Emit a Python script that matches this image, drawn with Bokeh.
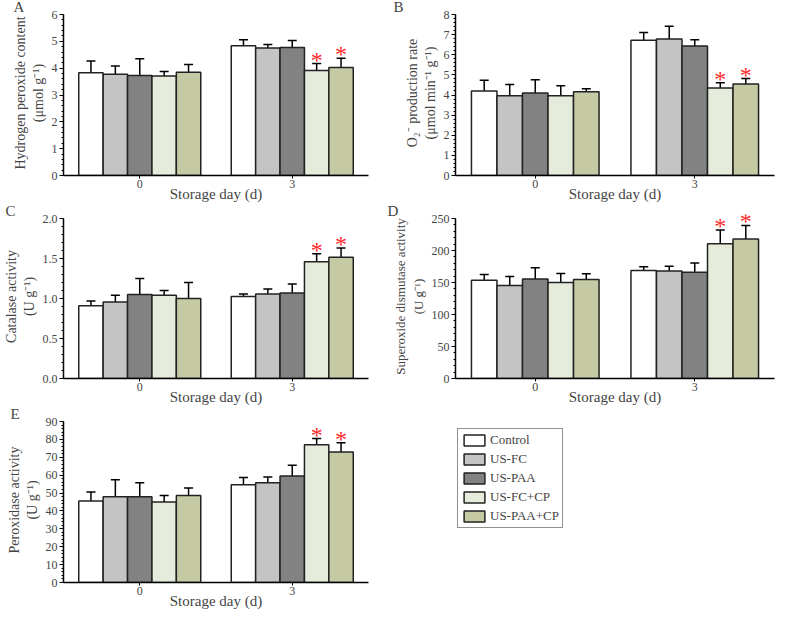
from bokeh.plotting import figure
from bokeh.models import (ColumnDataSource, Whisker, TeeHead, FactorRange, Range1d, Title, LabelSet,
                          SingleIntervalTicker, NumeralTickFormatter, Legend, LegendItem)
from bokeh.transform import dodge
from bokeh.layouts import gridplot
from bokeh.embed import file_html
from bokeh.resources import INLINE

days = ["0", "3"]
series = ["Control", "US-FC", "US-PAA", "US-FC+CP", "US-PAA+CP"]
colors = ["#ffffff", "#c4c4c4", "#828282", "#e5ecdc", "#c5caa5"]

# mean and upper end of error bar, per series, for [day 0, day 3]
a_mean = [[3.83, 4.84], [3.77, 4.75], [3.73, 4.77], [3.71, 3.91], [3.85, 4.03]]
a_up = [[4.27, 5.06], [4.08, 4.88], [4.35, 5.03], [3.88, 4.17], [4.14, 4.37]]
b_mean = [[4.20, 6.72], [3.96, 6.78], [4.10, 6.43], [3.96, 4.35], [4.16, 4.55]]
b_up = [[4.73, 7.11], [4.52, 7.42], [4.76, 6.75], [4.46, 4.61], [4.31, 4.82]]
c_mean = [[0.91, 1.026], [0.955, 1.056], [1.05, 1.07], [1.04, 1.46], [1.00, 1.515]]
c_up = [[0.97, 1.056], [1.04, 1.12], [1.25, 1.18], [1.10, 1.56], [1.20, 1.63]]
d_mean = [[153.7, 168.7], [145.2, 167.8], [155.5, 165.9], [149.9, 210.5], [154.6, 218.0]]
d_up = [[162.6, 174.8], [159.3, 175.3], [172.9, 180.5], [164.0, 232.1], [163.5, 239.2]]
e_mean = [[45.5, 54.6], [47.9, 55.8], [47.9, 59.6], [45.0, 77.0], [48.7, 72.9]]
e_up = [[50.6, 58.7], [57.4, 59.0], [55.7, 65.5], [48.6, 80.5], [52.8, 78.2]]

# significance stars: (series index, day)
stars = [(3, "3"), (4, "3")]

FONT = "Liberation Serif"
BAR_W = 0.16
offsets = [-0.32, -0.16, 0.0, 0.16, 0.32]


def panel(letter, means, ups, ymax, step, fmt, ylabel, w, h, left, right, ysize="14px"):
    p = figure(width=w, height=h, x_range=FactorRange(*days, range_padding=0),
               y_range=Range1d(0, ymax * 1.025), output_backend="svg", toolbar_location=None,
               min_border_left=left, min_border_right=right,
               min_border_top=0, min_border_bottom=24)
    p.outline_line_color = None
    p.grid.visible = False
    for i in range(5):
        src = ColumnDataSource(dict(day=days, val=means[i], up=ups[i]))
        xd = dodge("day", offsets[i], range=p.x_range)
        wh = Whisker(source=src, base=xd, lower="val", upper="up",
                     line_color="black", line_width=1.5,
                     upper_head=TeeHead(size=9, line_color="black", line_width=1.5),
                     lower_head=None, level="underlay")
        p.add_layout(wh)
        p.vbar(x=xd, top="val", width=BAR_W, source=src, fill_color=colors[i],
               line_color="#222222", line_width=1.5)
        sd = [d for (s, d) in stars if s == i]
        if sd:
            ssrc = ColumnDataSource(dict(day=sd, up=[ups[i][days.index(d)] for d in sd],
                                         t=["*"] * len(sd)))
            p.add_layout(LabelSet(x=dodge("day", offsets[i], range=p.x_range), y="up", text="t",
                                  source=ssrc, text_color="#ff2a2a", text_font="DejaVu Sans",
                                  text_font_size="24px", text_align="center",
                                  text_baseline="middle", y_offset=4, level="overlay"))
    yax = p.yaxis[0]
    yax.ticker = SingleIntervalTicker(interval=step, num_minor_ticks=5)
    yax.bounds = (0, ymax)
    if fmt:
        yax.formatter = NumeralTickFormatter(format=fmt)
    yax.axis_label = ylabel
    yax.axis_label_text_font = FONT
    yax.axis_label_text_font_style = "normal"
    yax.axis_label_text_font_size = ysize
    yax.axis_label_standoff = 3
    yax.major_label_text_font = FONT
    yax.major_label_text_font_size = "12px"
    yax.major_tick_out = 4
    yax.major_tick_in = 0
    yax.minor_tick_out = 2
    yax.minor_tick_in = 0
    yax.axis_line_width = 1.5
    yax.major_label_standoff = 2
    xax = p.xaxis[0]
    xax.axis_label = "Storage day (d)"
    xax.axis_label_text_font = FONT
    xax.axis_label_text_font_style = "normal"
    xax.axis_label_text_font_size = "15px"
    xax.axis_label_standoff = -5
    xax.major_label_text_font = FONT
    xax.major_label_text_font_size = "12px"
    xax.major_label_standoff = 1
    xax.major_tick_out = 3
    xax.major_tick_in = 0
    xax.axis_line_width = 1.5
    p.add_layout(Title(text=letter, align="left", offset=-left + 2, standoff=-8,
                       text_font=FONT, text_font_size="15px", text_font_style="normal"), "above")
    return p


pA = panel("A", a_mean, a_up, 6, 1, None, "Hydrogen peroxide content\n(μmol g⁻¹)",
           385, 204, 52, 17)
pB = panel("B", b_mean, b_up, 8, 1, None, "O₂⁻ production rate\n(μmol min⁻¹ g⁻¹)",
           392, 204, 64, 3)
pC = panel("C", c_mean, c_up, 2.0, 0.5, "0.0", "Catalase activity\n(U g⁻¹)",
           385, 203, 60, 17)
pD = panel("D", d_mean, d_up, 250, 50, None, "Superoxide dismutase activity\n(U g⁻¹)",
           392, 203, 70, 3, ysize="13px")
pE = panel("E", e_mean, e_up, 90, 10, None, "Peroxidase activity\n(U g⁻¹)",
           385, 204, 55, 17)

# legend panel: proxy renderers with NaN data, used only for the legend swatches
pL = figure(width=392, height=204, x_range=Range1d(0, 1), y_range=Range1d(0, 1),
            output_backend="svg", toolbar_location=None, x_axis_location=None, y_axis_location=None,
            min_border_left=64, min_border_right=0, min_border_top=0, min_border_bottom=0)
pL.grid.visible = False
pL.outline_line_color = None
items = []
for i in range(5):
    r = pL.vbar(x=[float("nan")], top=[float("nan")], width=0.1, fill_color=colors[i],
                line_color="#222222", line_width=1.5)
    items.append(LegendItem(label=series[i], renderers=[r]))
leg = Legend(items=items, location=(2, 54), orientation="vertical",
             label_text_font=FONT, label_text_font_size="13px",
             glyph_width=26, glyph_height=14, label_height=14, spacing=3,
             padding=3, margin=0, label_standoff=3,
             border_line_color="#222222", border_line_width=1.5,
             background_fill_alpha=1.0)
pL.add_layout(leg, "center")

grid = gridplot([[pA, pB], [pC, pD], [pE, pL]], toolbar_location=None)

open("out.html", "w").write(file_html(grid, INLINE))
